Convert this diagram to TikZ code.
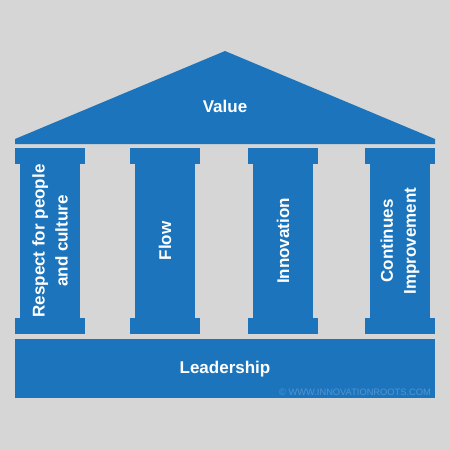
\documentclass[tikz,border=0pt]{standalone}
\usepackage{fontspec}
\setmainfont{Liberation Sans}
\usepackage{tikz}

\definecolor{templeblue}{HTML}{1C75BC}
\definecolor{backgray}{HTML}{D6D6D6}
\definecolor{markblue}{HTML}{5493D0}

\begin{document}
\begin{tikzpicture}[x=1pt,y=-1pt,
	capital/.style={fill=templeblue,minimum width=70pt,minimum height=16pt,inner sep=0pt},
	shaft/.style={fill=templeblue,rotate=90,minimum width=154pt,minimum height=60pt,inner sep=0pt,
		text=white,align=center,font=\fontsize{17}{23}\selectfont\bfseries},
	title/.style={text=white,font=\fontsize{17}{20}\selectfont\bfseries}]
	
	\fill[backgray] (0,0) rectangle (450,450);
	\useasboundingbox (0,0) rectangle (450,450);
	
	% roof
	\fill[templeblue] (15,144) -- (15,139) -- (225,51) -- (435,139) -- (435,144) -- cycle;
	\node[title] (value) at (225,106) {Value};
	
	% pillars
	\node[capital] (ta) at (50,156)  {};
	\node[capital] (tb) at (165,156) {};
	\node[capital] (tc) at (283,156) {};
	\node[capital] (td) at (400,156) {};
	
	\node[shaft] (a) at (50,241)  {Respect for people\\and culture};
	\node[shaft] (b) at (165,241) {Flow};
	\node[shaft] (c) at (283,241) {Innovation};
	\node[shaft] (d) at (400,241) {Continues\\Improvement};
	
	\node[capital] (ba) at (50,326)  {};
	\node[capital] (bb) at (165,326) {};
	\node[capital] (bc) at (283,326) {};
	\node[capital] (bd) at (400,326) {};
	
	% base
	\node[fill=templeblue,minimum width=420pt,minimum height=59pt,inner sep=0pt] (base) at (225,368.5) {};
	\node[title] (leadership) at (225,369) {Leadership};
	\node[anchor=east,text=markblue,font=\fontsize{9.3}{10}\selectfont,inner sep=0pt] (mark) at (431,392) {© WWW.INNOVATIONROOTS.COM};
	
\end{tikzpicture}
\end{document}
